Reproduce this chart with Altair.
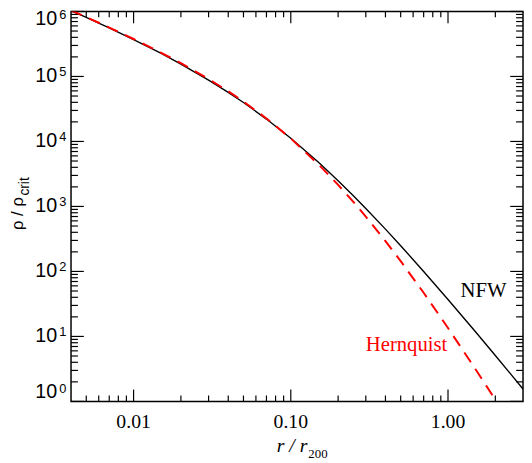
import altair as alt
import pandas as pd

# ---- data ----
r_vals = [0.004, 0.005, 0.006, 0.007, 0.01, 0.015, 0.02, 0.03, 0.04, 0.05, 0.07,
          0.1, 0.15, 0.2, 0.25, 0.3, 0.4, 0.5, 0.7, 1.0, 1.5, 2.0, 2.5, 3.0]
nfw = [1.03e6, 8.1e5, 6.6e5, 5.6e5, 3.7e5, 2.26e5, 1.55e5, 8.8e4, 5.7e4, 3.98e4, 2.21e4,
       1.12e4, 4.78e3, 2.49e3, 1.46e3, 933, 448, 249, 100, 37.0, 11.7, 5.1, 2.65, 1.55]
hernquist = [1.04e6, 8.2e5, 6.7e5, 5.66e5, 3.77e5, 2.31e5, 1.6e5, 9.14e4, 5.92e4, 4.11e4, 2.26e4,
             1.11e4, 4.44e3, 2.15e3, 1.175e3, 698, 293, 144, 47.0, 13.5, 3.1, 1.06, 0.455, 0.226]

y_major = [1, 10, 100, 1e3, 1e4, 1e5, 1e6]
y_exp = ["0", "1", "2", "3", "4", "5", "6"]
y_minor = [m * 10 ** k for k in range(6) for m in range(2, 10)]
x_major = [0.01, 0.1, 1.0]
x_labels = ["0.01", "0.10", "1.00"]
x_minor = [0.005, 0.006, 0.007, 0.008, 0.009,
           0.02, 0.03, 0.04, 0.05, 0.06, 0.07, 0.08, 0.09,
           0.2, 0.3, 0.4, 0.5, 0.6, 0.7, 0.8, 0.9, 2.0]

curve_names = ["NFW", "Hernquist"]
label_r = [1.68, 0.545]
label_rho = [50, 7.3]

W, H = 459, 396
SANS = "Liberation Sans"
SERIF = "Liberation Serif"

xs = alt.Scale(type="log", domain=[0.004, 3], nice=False)
ys = alt.Scale(type="log", domain=[1, 1e6], nice=False)

curves = pd.DataFrame({"r": r_vals, "nfw": nfw, "hern": hernquist})
ymaj = pd.DataFrame({"v": y_major, "e": y_exp, "b": ["10"] * len(y_major)})
ymin = pd.DataFrame({"v": y_minor})
xmaj = pd.DataFrame({"v": x_major, "t": x_labels})
xmin = pd.DataFrame({"v": x_minor})

X = alt.X("r:Q", scale=xs, axis=None)

nfw_line = alt.Chart(curves).mark_line(color="black", strokeWidth=1.4, clip=True).encode(
    x=X, y=alt.Y("nfw:Q", scale=ys, axis=None))
hern_line = alt.Chart(curves).mark_line(color="#ff0000", strokeWidth=2, strokeDash=[12, 8],
                                        clip=True).encode(
    x=X, y=alt.Y("hern:Q", scale=ys, axis=None))

labels = pd.DataFrame({"r": label_r, "rho": label_rho, "t": curve_names,
                       "c": ["black", "#ff0000"]})
curve_text = alt.Chart(labels).mark_text(font=SERIF, fontSize=21).encode(
    x=X, y=alt.Y("rho:Q", scale=ys, axis=None), text="t:N",
    color=alt.Color("c:N", scale=None))

def yticks(df, length, right=False):
    x0 = W if right else 0
    x1 = W - length if right else length
    return alt.Chart(df).mark_rule(color="black", strokeWidth=1.2).encode(
        y=alt.Y("v:Q", scale=ys, axis=None), x=alt.value(x0), x2=alt.value(x1))

def xticks(df, length, top=False):
    y0 = 0 if top else H
    y1 = length if top else H - length
    return alt.Chart(df).mark_rule(color="black", strokeWidth=1.2).encode(
        x=alt.X("v:Q", scale=xs, axis=None), y=alt.value(y0), y2=alt.value(y1))

ticks = [yticks(ymaj, 13), yticks(ymin, 7), yticks(ymaj, 13, True), yticks(ymin, 7, True),
         xticks(xmaj, 12), xticks(xmin, 6), xticks(xmaj, 12, True), xticks(xmin, 6, True)]

def ylabel(filt, dy):
    base = alt.Chart(ymaj).transform_filter(filt)
    ten = base.mark_text(font=SANS, fontSize=20, align="right", baseline="middle", dy=dy).encode(
        y=alt.Y("v:Q", scale=ys, axis=None), x=alt.value(-14), text="b:N")
    ex = base.mark_text(font=SANS, fontSize=13, align="left", baseline="middle", dy=dy - 4).encode(
        y=alt.Y("v:Q", scale=ys, axis=None), x=alt.value(-12), text="e:N")
    return [ten, ex]

ylabels = (ylabel("datum.v > 1 && datum.v < 1e6", 0) + ylabel("datum.v >= 1e6", 8)
           + ylabel("datum.v <= 1", -9))

xlabels = alt.Chart(xmaj).mark_text(font=SERIF, fontSize=20, baseline="middle").encode(
    x=alt.X("v:Q", scale=xs, axis=None), y=alt.value(H + 21), text="t:N")

one = pd.DataFrame({"a": ["r / r"], "b": ["200"], "c": ["\u03c1 / \u03c1"], "d": ["crit"]})
xt1 = alt.Chart(one).mark_text(font=SERIF, fontSize=20, fontStyle="italic", align="right",
                               baseline="alphabetic").encode(
    text="a:N", x=alt.value(240), y=alt.value(447))
xt2 = alt.Chart(one).mark_text(font=SERIF, fontSize=13, align="left",
                               baseline="alphabetic").encode(
    text="b:N", x=alt.value(241), y=alt.value(453))
yt1 = alt.Chart(one).mark_text(font=SANS, fontSize=17, align="left", baseline="middle",
                               angle=270).encode(
    text="c:N", x=alt.value(-54), y=alt.value(222))
yt2 = alt.Chart(one).mark_text(font=SANS, fontSize=14, align="left", baseline="middle",
                               angle=270).encode(
    text="d:N", x=alt.value(-47), y=alt.value(187))

chart = alt.layer(
    *ticks, nfw_line, hern_line, curve_text, *ylabels, xlabels, xt1, xt2, yt1, yt2
).properties(
    width=W, height=H,
    padding={"left": 64, "top": 0, "right": 1, "bottom": 58},
    autosize=alt.AutoSizeParams(type="none"),
    background="white",
).configure_view(stroke="black", strokeWidth=1.5)

chart.save("out.html", embed_options={"renderer": "svg", "actions": False})
